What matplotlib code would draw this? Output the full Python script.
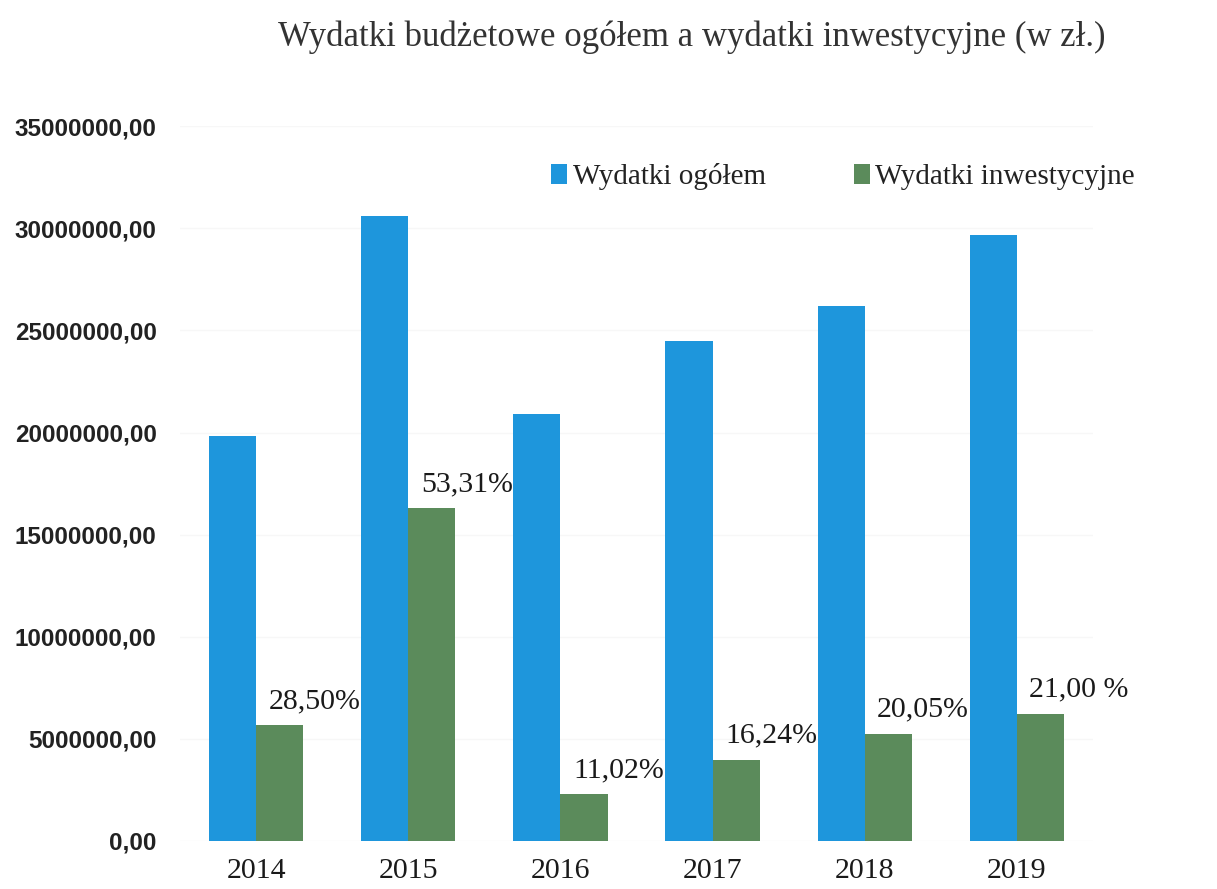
import numpy as np
import matplotlib.pyplot as plt
from matplotlib.ticker import FuncFormatter

# dane
lata = ["2014", "2015", "2016", "2017", "2018", "2019"]
wydatki_ogolem = [19850000, 30600000, 20900000, 24500000, 26200000, 29650000]
wydatki_inwest = [5660000, 16300000, 2300000, 3980000, 5250000, 6230000]
procenty = ["28,50%", "53,31%", "11,02%", "16,24%", "20,05%", "21,00 %"]

niebieski = "#1e96dc"
zielony = "#5b8b5b"
serif = "Liberation Serif"

fig = plt.figure(figsize=(12.17, 8.89), dpi=100)
ax = fig.add_axes([0.148, 0.054, 0.75, 0.804])

x = np.arange(len(lata))
w = 0.31
ax.bar(x - w / 2, wydatki_ogolem, w, color=niebieski, label="Wydatki ogółem")
ax.bar(x + w / 2, wydatki_inwest, w, color=zielony, label="Wydatki inwestycyjne")

# etykiety procentowe nad zielonymi słupkami
for xi, val, txt in zip(x, wydatki_inwest, procenty):
    ax.annotate(txt, (xi + w / 2, val), xytext=(-8, 8), textcoords="offset points",
                ha="left", va="bottom", fontsize=21.5, family=serif, color="#1a1a1a")

ax.set_ylim(0, 35000000)
ax.set_xlim(-0.5, 5.5)
ax.set_yticks(np.arange(0, 35000001, 5000000))
ax.yaxis.set_major_formatter(FuncFormatter(lambda v, p: f"{v:.2f}".replace(".", ",")))
ax.set_xticks(x)
ax.set_xticklabels(lata, fontsize=21.5, family=serif, color="#1a1a1a")
for lab in ax.get_yticklabels():
    lab.set_fontsize(17.5)
    lab.set_fontweight("bold")
    lab.set_family("Liberation Sans")
    lab.set_color("#222222")
ax.tick_params(length=0)
ax.tick_params(axis="y", pad=17)
ax.tick_params(axis="x", pad=12)
for s in ax.spines.values():
    s.set_visible(False)
ax.yaxis.grid(True, color="#f7f7f7", linewidth=1)
ax.set_axisbelow(True)

ax.legend(loc="upper right", bbox_to_anchor=(1.075, 0.985), ncol=2, frameon=False,
          prop={"family": serif, "size": 21}, handlelength=0.55, handleheight=0.7,
          handletextpad=0.2, columnspacing=3.0, labelcolor="#222222")

fig.text(0.568, 0.958, "Wydatki budżetowe ogółem a wydatki inwestycyjne (w zł.)",
         ha="center", va="center", fontsize=25, family=serif, color="#333333")

fig.savefig("out.png", dpi=100)
